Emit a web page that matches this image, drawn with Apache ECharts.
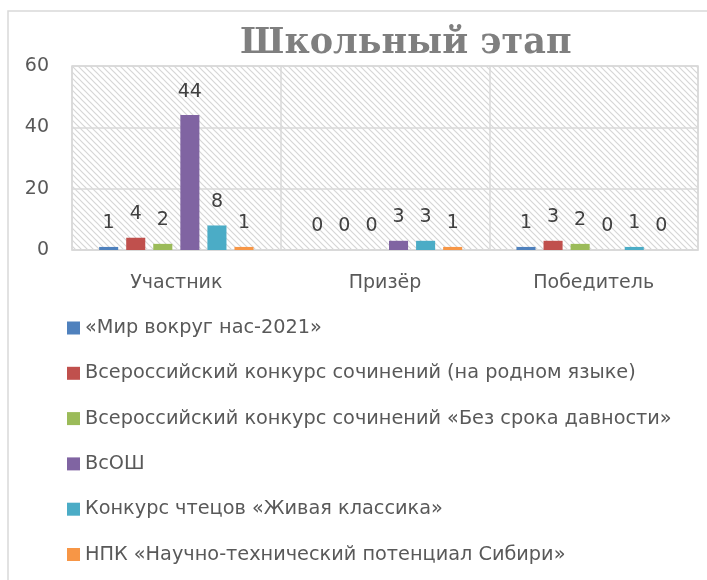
<!DOCTYPE html>
<html>
<head>
<meta charset="utf-8">
<script src="https://cdn.jsdelivr.net/npm/echarts@6/dist/echarts.min.js"></script>
<style>
html,body{margin:0;padding:0;background:#fff;}
#chart{width:707px;height:580px;}
</style>
</head>
<body>
<div id="chart"></div>
<script>
// данные диаграммы
var categories = ['Участник', 'Призёр', 'Победитель'];
var seriesNames = [
  '«Мир вокруг нас-2021»',
  'Всероссийский конкурс сочинений (на родном языке)',
  'Всероссийский конкурс сочинений «Без срока давности»',
  'ВсОШ',
  'Конкурс чтецов «Живая классика»',
  'НПК «Научно-технический потенциал Сибири»'
];
var mirVokrug = [1, 0, 1];
var sochineniyaRodnoy = [4, 0, 3];
var bezSroka = [2, 0, 2];
var vsosh = [44, 3, 0];
var zhivayaKlassika = [8, 3, 1];
var npkSibir = [1, 1, 0];
var yTicks = [0, 20, 40, 60];

var colors = ['#4F81BD', '#C0504D', '#9BBB59', '#8064A2', '#4BACC6', '#F79646'];
var values = [mirVokrug, sochineniyaRodnoy, bezSroka, vsosh, zhivayaKlassika, npkSibir];

// штриховка фона области построения
function makeHatch(){
  var s = 6;
  var c = document.createElement('canvas');
  c.width = s; c.height = s;
  var ctx = c.getContext('2d');
  ctx.fillStyle = '#ffffff';
  ctx.fillRect(0, 0, s, s);
  ctx.strokeStyle = '#d6d6d6';
  ctx.lineWidth = 1.2;
  ctx.beginPath();
  ctx.moveTo(-1, -1); ctx.lineTo(s + 1, s + 1);
  ctx.moveTo(-1, s - 1); ctx.lineTo(1, s + 1);
  ctx.moveTo(s - 1, -1); ctx.lineTo(s + 1, 1);
  ctx.stroke();
  return c;
}

var sans = 'DejaVu Sans';
var myChart = echarts.init(document.getElementById('chart'));

var series = [];
for (var i = 0; i < seriesNames.length; i++) {
  series.push({
    name: seriesNames[i],
    type: 'bar',
    data: values[i],
    barGap: '42%',
    barCategoryGap: '26%',
    itemStyle: {color: colors[i]},
    label: {
      show: true,
      position: 'top',
      distance: 14,
      color: '#404040',
      fontFamily: sans,
      fontSize: 19
    }
  });
}

var option = {
  animation: false,
  color: colors,
  title: {
    text: 'Школьный этап',
    left: 235,
    top: 21,
    textStyle: {
      fontFamily: 'DejaVu Serif',
      fontWeight: 'bold',
      fontSize: 35,
      color: '#7f7f7f'
    }
  },
  graphic: [{
    type: 'rect',
    shape: {x: 8, y: 11, width: 800, height: 700},
    style: {fill: 'none', stroke: '#d9d9d9', lineWidth: 1.5},
    silent: true
  }],
  grid: {
    left: 72,
    right: 9,
    top: 66,
    bottom: 330,
    show: true,
    backgroundColor: {image: makeHatch(), repeat: 'repeat'},
    borderColor: '#d9d9d9',
    borderWidth: 1.5
  },
  legend: {
    orient: 'vertical',
    left: 62,
    top: 312,
    itemWidth: 13,
    itemHeight: 13,
    itemGap: 23.3,
    icon: 'rect',
    textStyle: {
      fontFamily: sans,
      fontSize: 19.3,
      lineHeight: 22,
      color: '#595959'
    }
  },
  xAxis: {
    type: 'category',
    data: categories,
    axisLine: {lineStyle: {color: '#d9d9d9', width: 1.5}},
    axisTick: {show: false},
    splitLine: {show: true, lineStyle: {color: '#d9d9d9', width: 1.5}},
    axisLabel: {margin: 24, color: '#595959', fontFamily: sans, fontSize: 19}
  },
  yAxis: {
    type: 'value',
    min: yTicks[0],
    max: yTicks[yTicks.length - 1],
    interval: yTicks[1] - yTicks[0],
    axisLine: {show: false},
    axisTick: {show: false},
    splitLine: {lineStyle: {color: '#d9d9d9', width: 1.5}},
    axisLabel: {margin: 23, color: '#595959', fontFamily: sans, fontSize: 19}
  },
  series: series
};
myChart.setOption(option);
</script>
</body>
</html>
